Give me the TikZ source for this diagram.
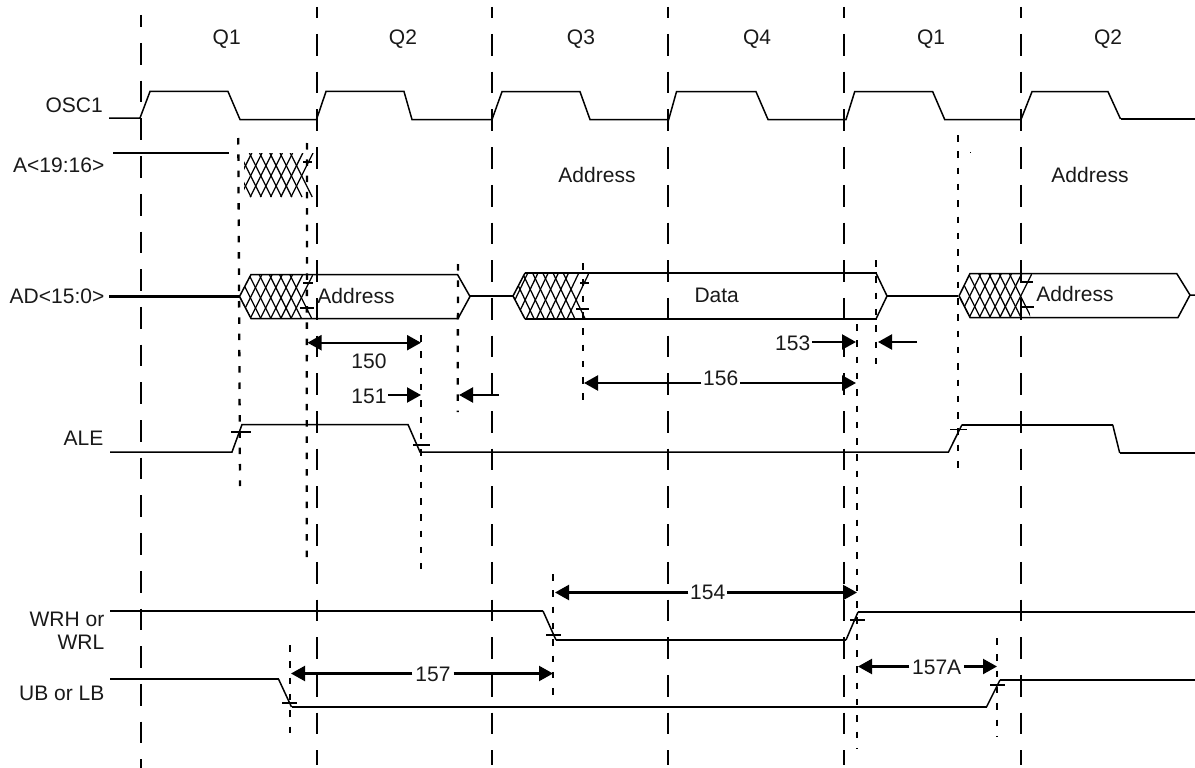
\documentclass[tikz,border=0pt]{standalone}
\usepackage{fontspec}
\setmainfont{Liberation Sans}
\usetikzlibrary{arrows.meta}
\tikzset{
  sig/.style={line width=1.5pt,black,line join=miter},
  sigthick/.style={line width=2.2pt,black},
  hatchline/.style={line width=1.25pt,black},
  tickmark/.style={line width=1.8pt,black},
  phase/.style={line width=2.3pt,black,dash pattern=on 21.7pt off 16pt},
  guide/.style={line width=2.3pt,black,dash pattern=on 6.5pt off 9.8pt},
  dim/.style={line width=2.2pt,black,-{Triangle[length=14pt,width=15pt]}},
  txt/.style={font=\fontsize{21}{24}\selectfont,text=black!90,inner sep=1.5pt},
  siglabel/.style={txt,anchor=east,inner sep=0pt},
}
% lx = left vertex, xr = right top end, yt, yb, last index of the right family
\newcommand{\crosshatch}[5]{%
  \foreach \k in {0,...,6}{
    \pgfmathsetmacro{\ta}{#1-11+\k*10.2}
    \draw[hatchline] (\ta,#3) -- (\ta+22,#4);
  }
  \foreach \k in {0,...,#5}{
    \pgfmathsetmacro{\tb}{#2-\k*10.2}
    \draw[hatchline] (\tb,#3) -- (\tb-22,#4);
  }}
\begin{document}
\begin{tikzpicture}[x=1pt,y=-1pt]
\useasboundingbox (0,0) rectangle (1195,768);
\fill[white] (0,0) rectangle (1195,768);

% phase boundaries
\draw[phase,dash phase=9.7pt] (141,15) -- (141,768);
\foreach \x in {317,492,668,844,1021}
  \draw[phase,dash phase=10.7pt] (\x,7) -- (\x,765);

% timing guides
\draw[guide] (238.3,138) -- (240,486);
\draw[guide] (307,143) -- (306.7,563);
\draw[guide] (421,335) -- (421,569);
\draw[guide] (458,264) -- (457.7,412);
\draw[guide] (583,263) -- (583,402);
\draw[guide] (857,324) -- (857,748);
\draw[guide] (876,260) -- (876,364);
\draw[guide] (958,135) -- (958,477);
\draw[guide] (553,574) -- (553,695);
\draw[guide] (290,645) -- (290,735);
\draw[guide] (997,638) -- (997,736);
\fill (970,151.6) rectangle (971,152.4);

% phase names
\foreach \n/\x/\t in {qa/226.7/Q1,qb/403/Q2,qc/581/Q3,qd/757/Q4,qe/931/Q1,qf/1108/Q2}
  \node[txt] (\n) at (\x,39.5) {\t};

% signal names
\node[siglabel] (osc) at (103,105) {OSC1};
\node[siglabel] (addrhi) at (104.5,165.5) {A<19:16>};
\node[siglabel] (ad) at (104.5,296) {AD<15:0>};
\node[siglabel] (ale) at (103.5,438.5) {ALE};
\node[siglabel] (wrh) at (104.5,619.7) {WRH or};
\node[siglabel] (wrl) at (104.5,642.7) {WRL};
\node[siglabel] (ub) at (104.5,693) {UB or LB};

% OSC1
\draw[sig] (109,118) -- (140,118) -- (150,91.5) -- (228,91.5) -- (240,119.5) -- (316.5,119.5)
  -- (326,91.5) -- (404,91.5) -- (412,119.5) -- (492,119.5) -- (502,91.7) -- (580,91.7)
  -- (590,119.5) -- (668.7,119.5) -- (676.5,91.7) -- (756,91.7) -- (768,119.5) -- (846,119.5)
  -- (854.7,91.7) -- (932.7,91.7) -- (944.7,119.5) -- (1021,119.5) -- (1032,91.7)
  -- (1108,91.7) -- (1120.5,119);
\draw[sigthick] (1120.5,119) -- (1195,119);

% A<19:16>
\draw[sigthick] (113,153) -- (229,153);
\begin{scope}
  \clip (244,153) rectangle (315,197);
  \crosshatch{240}{313}{153}{197}{6}
\end{scope}
\draw[tickmark] (303,161.7) -- (312,161.7);
\node[txt] (addra) at (597,175) {Address};
\node[txt] (addrb) at (1090,175) {Address};

% AD<15:0>, first bus
\draw[sigthick] (109,296.5) -- (240,296.5);
\begin{scope}
  \clip (239.5,296.5) -- (251,274.5) -- (313,274.5) -- (312,318.5) -- (251,318.5) -- cycle;
  \crosshatch{239.5}{313}{274.5}{318.5}{5}
\end{scope}
\draw[sig] (239.5,296.5) -- (251,274.5) -- (457.5,274.5) -- (470,296.5) -- (458,318.5) -- (251,318.5) -- cycle;
\draw[tickmark] (303,282.7) -- (313,282.7) (299.5,307.7) -- (313.5,307.7);
\node[txt] (addrc) at (356,296) {Address};
\draw[sigthick] (470,296) -- (513,296);

% AD<15:0>, second bus
\begin{scope}
  \clip (513,296) -- (525,273) -- (589,273) -- (587,319) -- (525,319) -- cycle;
  \crosshatch{513}{589}{273}{319}{6}
\end{scope}
\draw[sig] (525,273) -- (513,296) -- (525,319) (876,273) -- (887,296) -- (876,319);
\draw[sigthick] (525,273) -- (877,273) (525,319) -- (877,319);
\draw[tickmark] (580,283) -- (589,283) (576,308.7) -- (589,308.7);
\node[txt] (datab) at (716.7,295.5) {Data};
\draw[sigthick] (887,296) -- (958,296);

% AD<15:0>, third bus
\begin{scope}
  \clip (959,296) -- (970,273.5) -- (1032,273.5) -- (1030,317.5) -- (970,317.5) -- cycle;
  \crosshatch{959}{1032}{273.5}{317.5}{5}
\end{scope}
\draw[sig] (1195,295) -- (1190,295) -- (1176.7,273.5) -- (970,273.5) -- (959,296) -- (970,317.5) -- (1178,317.5) -- (1190,295);
\draw[tickmark] (1020,282) -- (1032.7,282) (1020,306.7) -- (1034,306.7);
\node[txt] (addrd) at (1075,294) {Address};

% ALE
\draw[sig] (110,452) -- (232,452) -- (242,424.5) -- (408,424.5) -- (420,452) -- (948.5,452) -- (962,424.7);
\draw[sigthick] (962,424.7) -- (1112.7,424.7);
\draw[sig] (1112.7,424.7) -- (1119.7,453);
\draw[sigthick] (1119.7,453) -- (1195,453);
\draw[tickmark] (231,432) -- (251,432) (413,444.7) -- (430,444.7) (950,429.5) -- (967,429.5);

% WRH or WRL
\draw[sigthick] (110,611) -- (543,611);
\draw[sig] (543,611) -- (556,640);
\draw[sigthick] (556,640) -- (846,640);
\draw[sig] (846,640) -- (858,612);
\draw[sigthick] (858,612) -- (1195,612);
\draw[tickmark] (546,635) -- (561,635) (850,620) -- (865,620);

% UB or LB
\draw[sigthick] (110,679) -- (278.5,679);
\draw[sig] (278.5,679) -- (291.5,707);
\draw[sigthick] (291.5,707) -- (986.5,707);
\draw[sig] (986.5,707) -- (1000,680);
\draw[sigthick] (1000,680) -- (1195,680);
\draw[tickmark] (282,703) -- (297,703) (990,685) -- (1005,685);

% dimension labels and end points
\coordinate (a150l) at (307.5,342.7);
\coordinate (a150r) at (421,342.7);
\draw[dim,{Triangle[length=14pt,width=15pt]}-{Triangle[length=14pt,width=15pt]}] (a150l) -- (a150r);
\node[txt] (d150) at (369,361.7) {150};

\node[txt] (d151) at (369,396) {151};
\coordinate (a151r) at (421,395);
\coordinate (a151s) at (499,395);
\coordinate (a151t) at (459,395);
\draw[dim] (d151.east |- a151r) -- (a151r);
\draw[dim] (a151s) -- (a151t);

\node[txt] (d153) at (792.7,343) {153};
\coordinate (a153r) at (856,342);
\coordinate (a153s) at (917,342);
\coordinate (a153t) at (878,342);
\draw[dim] (d153.east |- a153r) -- (a153r);
\draw[dim] (a153s) -- (a153t);

\node[txt] (d156) at (720.7,378) {156};
\coordinate (a156l) at (584,383);
\coordinate (a156r) at (856,383);
\draw[dim] (d156.west |- a156l) -- (a156l);
\draw[dim] (d156.east |- a156r) -- (a156r);

\node[txt] (d154) at (707.7,592) {154};
\coordinate (a154l) at (555,592.5);
\coordinate (a154r) at (857,592.5);
\draw[dim] (d154.west |- a154l) -- (a154l);
\draw[dim] (d154.east |- a154r) -- (a154r);

\node[txt,inner sep=3pt] (d157) at (433,674) {157};
\coordinate (a157l) at (291,673.5);
\coordinate (a157r) at (553,673.5);
\draw[dim] (d157.west |- a157l) -- (a157l);
\draw[dim] (d157.east |- a157r) -- (a157r);

\node[txt,inner sep=2.5pt] (d157a) at (936.7,667) {157A};
\coordinate (a157al) at (858,666.5);
\coordinate (a157ar) at (997,666.5);
\draw[dim] (d157a.west |- a157al) -- (a157al);
\draw[dim] (d157a.east |- a157ar) -- (a157ar);
\end{tikzpicture}
\end{document}
